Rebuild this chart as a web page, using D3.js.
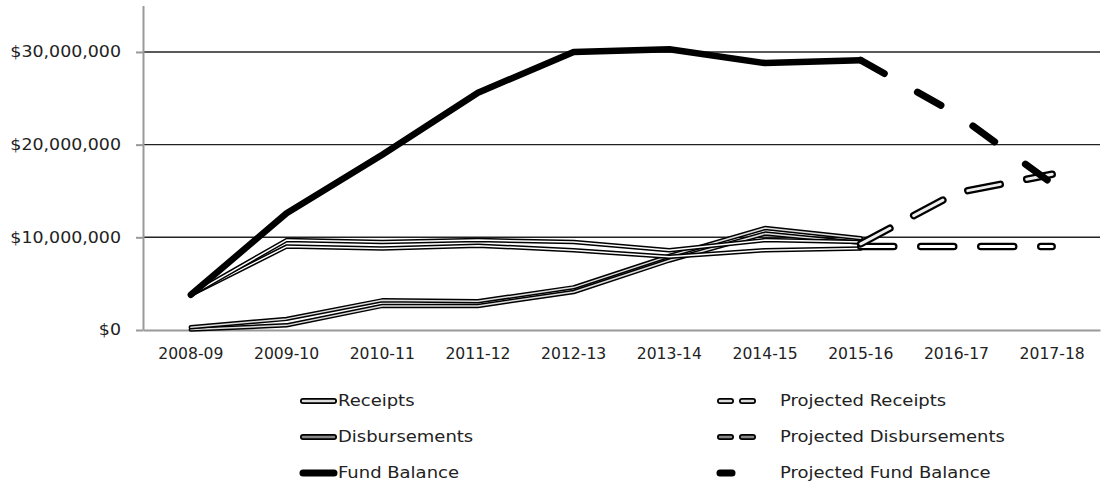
<!doctype html>
<html>
<head>
    <meta charset="UTF-8">
    <title>Fund Balance</title>
    <script src="https://d3js.org/d3.v7.min.js" charset="utf-8"></script>
    <style>
        body { margin: 0; background: #fff; }
        text { font-family: "DejaVu Sans", sans-serif; fill: #222; }
    </style>
</head>
<body>
<svg id="chart" width="1105" height="491"></svg>
<script>
    // fiscal years on the x axis
    var categories = ["2008-09","2009-10","2010-11","2011-12","2012-13","2013-14","2014-15","2015-16","2016-17","2017-18"];
    var yTicks = [0, 10000000, 20000000, 30000000];

    var receipts      = [3800000, 9700000, 9500000, 9700000, 9500000, 8600000, 9700000, 9500000];
    var receipts2     = [3800000, 9000000, 8800000, 9100000, 8600000, 7900000, 8600000, 8800000];
    var disbursements = [300000, 1200000, 3200000, 3100000, 4600000, 8000000, 11000000, 9900000];
    var disbursements2= [50000, 500000, 2600000, 2600000, 4100000, 7500000, 10400000, 9400000];
    var fundBalance   = [3800000, 12600000, 18900000, 25600000, 30000000, 30300000, 28800000, 29100000];

    // projections start at 2015-16
    var projStart = 7;
    var projReceipts      = [9000000, 9000000, 9000000];
    var projDisbursements = [9300000, 14800000, 16800000];
    var projFundBalance   = [29100000, 23300000, 15800000];

    var legendLeft  = ["Receipts", "Disbursements", "Fund Balance"];
    var legendRight = ["Projected Receipts", "Projected Disbursements", "Projected Fund Balance"];

    var svg = d3.select("#chart");
    var plotLeft = 143, plotRight = 1100, plotTop = 5.6, plotBottom = 330;

    var x = d3.scaleBand().domain(categories).range([plotLeft, plotRight]);
    var y = d3.scaleLinear().domain([0, 35000000]).range([plotBottom, plotTop]);
    function cx(i) { return x(categories[i]) + x.bandwidth() / 2; }

    // gridlines
    svg.append("g").selectAll("line")
        .data(yTicks.filter(function(d) { return d > 0; }))
        .enter().append("line")
        .attr("x1", plotLeft).attr("x2", plotRight)
        .attr("y1", function(d) { return y(d); })
        .attr("y2", function(d) { return y(d); })
        .attr("stroke", "#222").attr("stroke-width", 1.4);

    // x axis
    var xAxis = svg.append("g")
        .attr("transform", "translate(0," + plotBottom + ")")
        .call(d3.axisBottom(x).tickSize(0).tickPadding(18));
    xAxis.select(".domain").attr("stroke", "#999").attr("stroke-width", 2);
    xAxis.selectAll("text").attr("font-size", 15).attr("fill", "#222")
        .style("font-family", "DejaVu Sans")
        .attr("transform", "scale(1.04,1)");

    // y axis
    var yAxis = svg.append("g")
        .attr("transform", "translate(" + plotLeft + ",0)")
        .call(d3.axisLeft(y).tickValues(yTicks).tickSize(7).tickSizeOuter(0).tickPadding(12)
            .tickFormat(d3.format("$,")));
    yAxis.select(".domain").attr("stroke", "#999").attr("stroke-width", 2);
    yAxis.selectAll(".tick line").attr("stroke", "#999").attr("stroke-width", 2);
    yAxis.selectAll("text").attr("font-size", 15).attr("fill", "#222")
        .style("font-family", "DejaVu Sans")
        .attr("transform", "scale(1.16,1)");

    var line = d3.line()
        .x(function(d, i) { return cx(i); })
        .y(function(d) { return y(d); });
    var projLine = d3.line()
        .x(function(d, i) { return cx(i + projStart); })
        .y(function(d) { return y(d); });

    var lines = svg.append("g").attr("fill", "none")
        .attr("stroke-linejoin", "round").attr("stroke-linecap", "round");

    function compound(g, path, inner, wOut, wIn, dash) {
        g.append("path").attr("d", path).attr("stroke", "#000")
            .attr("stroke-width", wOut).attr("stroke-dasharray", dash);
        g.append("path").attr("d", path).attr("stroke", inner)
            .attr("stroke-width", wIn).attr("stroke-dasharray", dash);
    }

    compound(lines, line(disbursements2), "#ddd", 4.5, 1.5, null);
    compound(lines, line(disbursements), "#ddd", 4.5, 1.5, null);
    compound(lines, line(receipts2), "#fff", 4.5, 1.5, null);
    compound(lines, line(receipts), "#fff", 4.5, 1.5, null);

    lines.append("path").attr("d", line(fundBalance))
        .attr("stroke", "#000").attr("stroke-width", 6.5);

    compound(lines, projLine(projReceipts), "#fff", 7.5, 3, "33,27");
    compound(lines, projLine(projDisbursements), "#eee", 7.5, 3, "33,27");
    lines.append("path").attr("d", projLine(projFundBalance))
        .attr("stroke", "#000").attr("stroke-width", 7).attr("stroke-dasharray", "27,38");

    // legend
    var rowY = [401, 437, 473];
    var lg = svg.append("g").attr("fill", "none").attr("stroke-linecap", "round");
    var inners = ["#ddd", "#888", null];

    function legendText(x0, y0, name) {
        svg.append("text")
            .attr("transform", "translate(" + x0 + "," + (y0 + 5) + ") scale(1.2,1)")
            .attr("font-size", 15).text(name);
    }

    legendLeft.forEach(function(name, i) {
        var p = "M303," + rowY[i] + "H334";
        if (inners[i]) {
            compound(lg, p, inners[i], 6, 2.5, null);
        } else {
            lg.append("path").attr("d", p).attr("stroke", "#000").attr("stroke-width", 7);
        }
        legendText(338, rowY[i], name);
    });

    legendRight.forEach(function(name, i) {
        if (inners[i]) {
            compound(lg, "M720," + rowY[i] + "H753", inners[i], 6, 2.5, "11,11");
        } else {
            lg.append("path").attr("d", "M720," + rowY[i] + "H732")
                .attr("stroke", "#000").attr("stroke-width", 7);
        }
        legendText(780, rowY[i], name);
    });
</script>
</body>
</html>
